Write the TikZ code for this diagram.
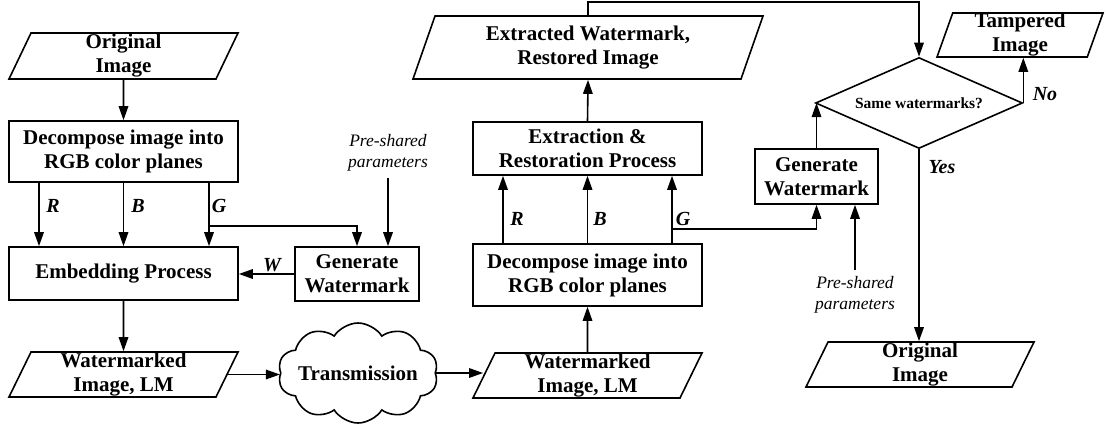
\documentclass[tikz,border=0pt]{standalone}
\usepackage{fontspec}
\setmainfont{Liberation Serif}
\usetikzlibrary{shapes.geometric,shapes.symbols,arrows.meta,calc}
\begin{document}
\begin{tikzpicture}[x=1pt,y=-1pt,
  line width=1.6pt,
  txt/.style={font=\fontsize{21}{24}\selectfont\bfseries, align=center},
  procbox/.style={txt, draw, rectangle, inner sep=0pt},
  iobox/.style={txt, draw, trapezium, trapezium left angle=63, trapezium right angle=117,
                trapezium stretches body, inner sep=0pt},
  arr/.style={-{Triangle[length=14pt,width=9.5pt]}},
  lbl/.style={font=\fontsize{20}{24}\selectfont\bfseries\itshape, inner sep=0pt},
  note/.style={font=\fontsize{17.5}{21}\selectfont\itshape, align=center, inner sep=0pt},
]
\useasboundingbox (0,0) rectangle (1107,423);

% ---- embedding side ----
\node[iobox, minimum width=229pt, minimum height=46pt] (orig) at (123.5,56) {Original\\Image};
\node[procbox, minimum width=229pt, minimum height=61pt] (dec1) at (123.5,151.5) {Decompose image into\\RGB color planes};
\node[procbox, minimum width=229pt, minimum height=53pt] (emb) at (123.5,273.5) {Embedding Process};
\node[procbox, minimum width=124pt, minimum height=54pt] (gen1) at (357,274) {Generate\\Watermark};
\node[note] (pre1) at (388,153) {Pre-shared\\parameters};
\node[iobox, minimum width=229pt, minimum height=45pt] (wm1) at (123.5,374.5) {Watermarked\\Image, LM};
\node[draw, cloud, cloud puffs=10, cloud puff arc=115, cloud ignores aspect, inner sep=0pt,
      minimum width=160pt, minimum height=100pt,
      label={[txt]center:Transmission}] (cloud) at (358,373) {};

% ---- extraction side ----
\node[iobox, minimum width=229pt, minimum height=45pt] (wm2) at (587.5,375.5) {Watermarked\\Image, LM};
\node[procbox, minimum width=229pt, minimum height=62pt] (dec2) at (587.5,275) {Decompose image into\\RGB color planes};
\node[procbox, minimum width=229pt, minimum height=53pt] (extr) at (587.5,148.5) {Extraction \&\\Restoration Process};
\node[iobox, minimum width=350pt, minimum height=63pt] (outw) at (588,47.5) {Extracted Watermark,\\Restored Image};
\node[procbox, minimum width=123pt, minimum height=55pt] (gen2) at (816.5,176.5) {Generate\\Watermark};
\node[note] (pre2) at (855,295) {Pre-shared\\parameters};
\node[draw, diamond, aspect=2.27, inner sep=0pt, minimum width=207pt, minimum height=91pt,
      font=\fontsize{15.5}{18}\selectfont\bfseries] (dia) at (919,103) {Same watermarks?};
\node[iobox, trapezium left angle=70, trapezium right angle=110,
      minimum width=166pt, minimum height=44pt] (tamp) at (1020,35) {Tampered\\Image};
\node[iobox, minimum width=228pt, minimum height=45pt] (orig2) at (920,364.5) {Original\\Image};

% ---- connectors: embedding ----
\draw[arr] (orig.south) -- (dec1.north);
\foreach \dx in {-84.5,0,85.5}
  \draw[arr] ([xshift=\dx pt]dec1.south) -- ([xshift=\dx pt]emb.north);
\node[lbl] (r1) at (53,206) {R};
\node[lbl] (b1) at (138,206) {B};
\node[lbl] (g1l) at (219,206) {G};
\coordinate (g1) at (209,226);
\draw[arr] (g1) -| (gen1.north);
\draw[arr] ([yshift=-6pt]pre1.south) -- (pre1.south |- gen1.north);
\draw[arr] (gen1.west) -- (gen1.west -| emb.east);
\node[lbl] (w) at (272,265) {W};
\draw[arr] (emb.south) -- (wm1.north);
\draw[arr] (wm1.east) -- (wm1.east -| cloud.west);
\draw[arr] (cloud.east) -- (cloud.east -| wm2.west);

% ---- connectors: extraction ----
\draw[arr] (wm2.north) -- (dec2.south);
\foreach \dx in {-84.5,0,84.5}
  \draw[arr] ([xshift=\dx pt]dec2.north) -- ([xshift=\dx pt]extr.south);
\node[lbl] (r2) at (517,219) {R};
\node[lbl] (b2) at (600,219) {B};
\node[lbl] (g2l) at (683,219) {G};
\coordinate (g2) at (672,229);
\draw[arr] (g2) -| (gen2.south);
\draw[arr] ([yshift=6pt]pre2.north) -- (pre2.north |- gen2.south);
\draw[arr] (gen2.north) -- (gen2.north |- dia.west);
\draw[arr] (extr.north) -- (outw.south);
\draw[arr] (outw.north) -- ++(0,-13) -| (dia.north);
\draw[arr] (dia.east) -- (dia.east |- tamp.south);
\node[lbl] (no) at (1045,94) {No};
\draw[arr] (dia.south) -- (dia.south |- orig2.north);
\node[lbl] (yes) at (942,167) {Yes};
\end{tikzpicture}
\end{document}
